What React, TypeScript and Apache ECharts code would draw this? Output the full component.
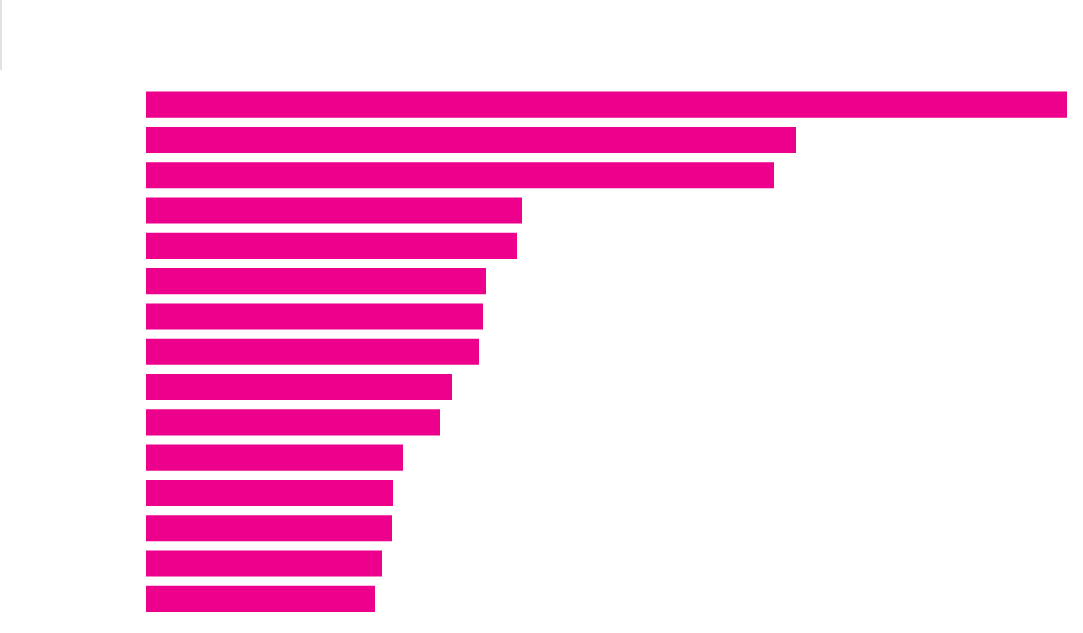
import React, { useEffect, useRef } from "react";
import * as echarts from "echarts";

const categories = [
  "Item 1", "Item 2", "Item 3", "Item 4", "Item 5",
  "Item 6", "Item 7", "Item 8", "Item 9", "Item 10",
  "Item 11", "Item 12", "Item 13", "Item 14", "Item 15",
];
const values = [921, 650, 628, 376, 371, 340, 337, 333, 306, 294, 257, 247, 246, 236, 229];
const barColor = "#ec008c";

export default function App() {
  const ref = useRef<HTMLDivElement>(null);
  useEffect(() => {
    document.body.style.margin = "0";
    const chart = echarts.init(ref.current!, null, { renderer: "svg" });
    chart.setOption({
      animation: false,
      grid: { left: 146, right: 16, top: 87, height: 529.5, containLabel: false },
      xAxis: {
        type: "value",
        min: 0,
        max: 921,
        show: false,
      },
      yAxis: {
        type: "category",
        data: categories,
        inverse: true,
        show: false,
      },
      graphic: [
        {
          type: "rect",
          left: 0,
          top: 0,
          shape: { x: 0, y: 0, width: 2, height: 70 },
          style: { fill: "#e2e2e2" },
        },
      ],
      series: [
        {
          type: "bar",
          data: values,
          barCategoryGap: "26%",
          itemStyle: { color: barColor },
        },
      ],
    });
    return () => chart.dispose();
  }, []);
  return <div ref={ref} style={{ width: 1083, height: 633 }} />;
}
